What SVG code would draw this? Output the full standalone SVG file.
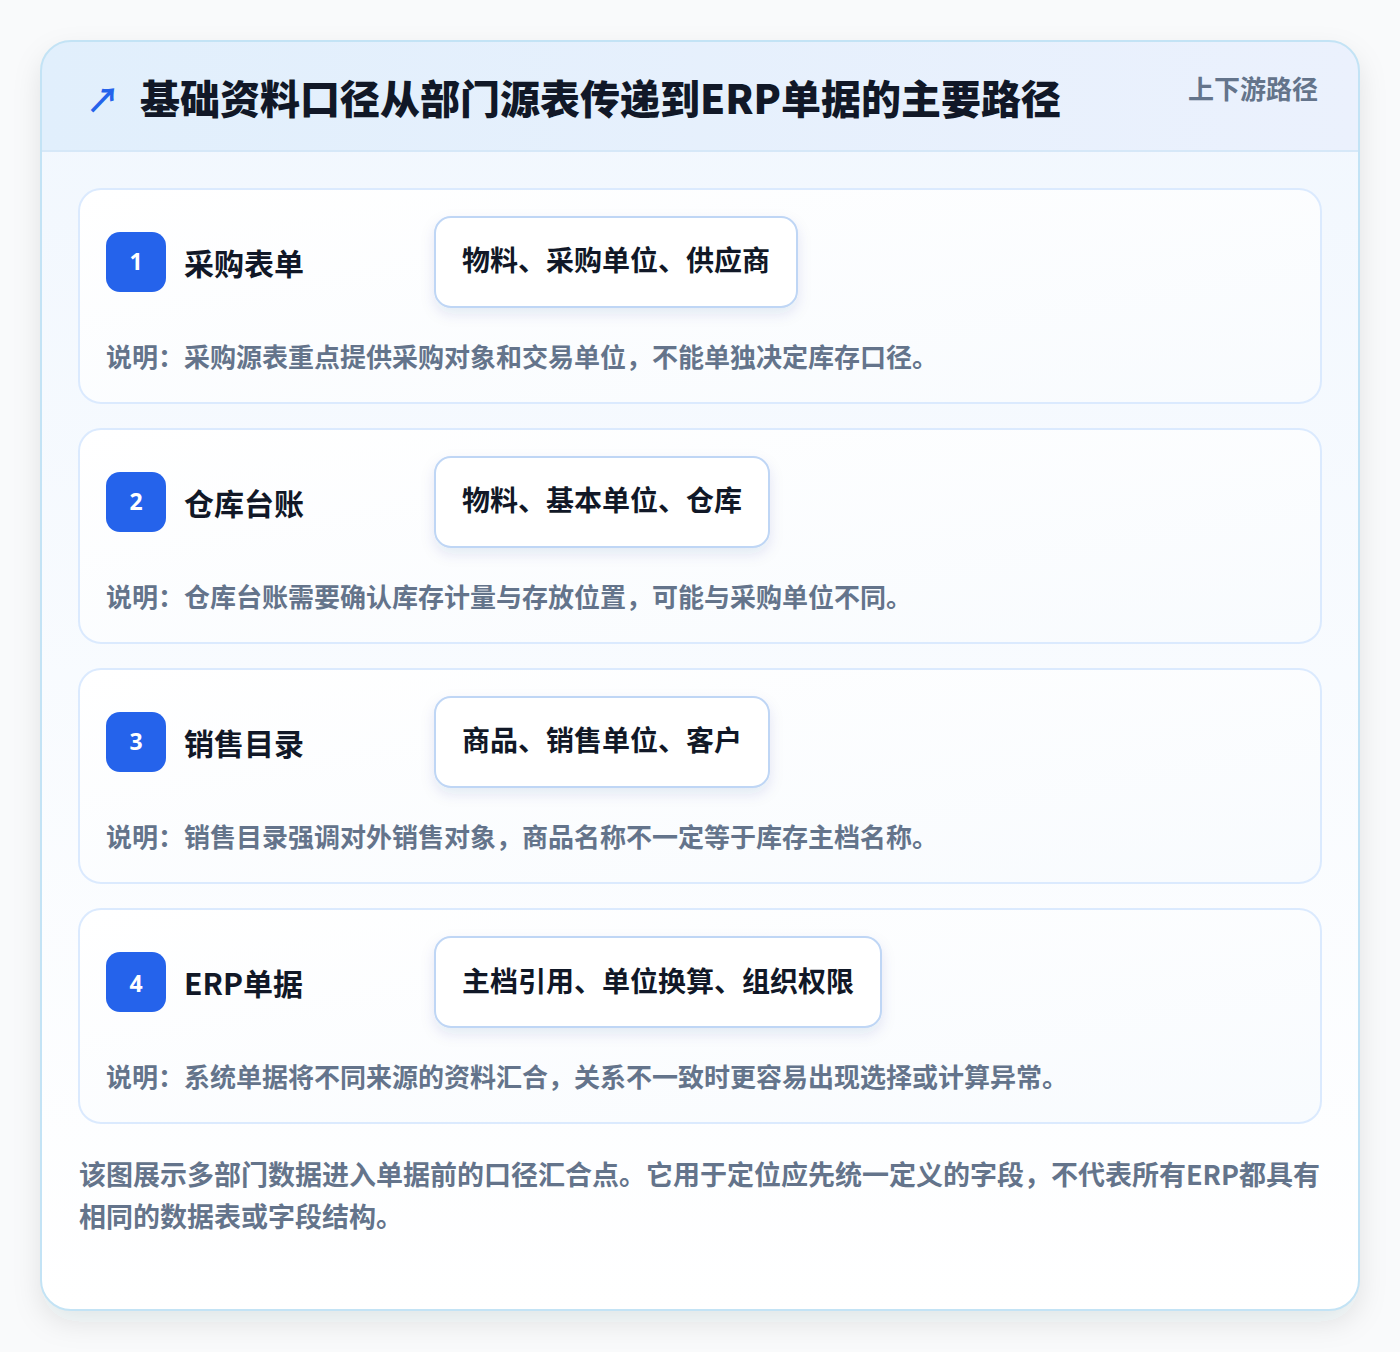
<svg xmlns="http://www.w3.org/2000/svg" width="1400" height="1352" viewBox="0 0 1400 1352">
<defs>
<linearGradient id="hdr" x1="0" y1="0" x2="1" y2="0"><stop offset="0" stop-color="#e1effc"/><stop offset="1" stop-color="#ebf1fd"/></linearGradient>
<linearGradient id="body" x1="0" y1="0" x2="0" y2="1"><stop offset="0" stop-color="#f1f7fe"/><stop offset="1" stop-color="#ffffff"/></linearGradient>
<linearGradient id="sec" x1="0" y1="0" x2="1" y2="1"><stop offset="0" stop-color="#ffffff"/><stop offset="1" stop-color="#f8fbfe"/></linearGradient>
<filter id="shadow" x="-10%" y="-10%" width="120%" height="120%"><feDropShadow dx="0" dy="12" stdDeviation="14" flood-color="#1e293b" flood-opacity="0.10"/></filter>
<filter id="chipShadow" x="-20%" y="-30%" width="140%" height="180%"><feDropShadow dx="0" dy="6" stdDeviation="7" flood-color="#1e3a8a" flood-opacity="0.10"/></filter>
<clipPath id="cardClip"><rect x="41" y="41" width="1318" height="1269" rx="30"/></clipPath>
</defs>
<style>
.t{font-family:"Noto Sans CJK SC","Noto Sans",sans-serif;font-weight:700}
.title{font-size:40px;font-weight:900;fill:#111827}
.tag{font-size:26px;fill:#64748b}
.sec{fill:url(#sec);stroke:#dbeafe;stroke-width:2}
.badge{fill:#2563eb}
.num{font-size:23px;fill:#ffffff;font-family:"Noto Sans","Liberation Sans",sans-serif;font-weight:700}
.name{font-size:30px;fill:#111827}
.chip{fill:#ffffff;stroke:#bfd6f5;stroke-width:2}
.chipt{font-size:28px;fill:#111827}
.desc{font-size:26px;fill:#64748b}
.foot{font-size:27px;fill:#64748b}
</style>
<rect width="1400" height="1352" fill="#f9fafb"/>
<rect x="41" y="41" width="1318" height="1269" rx="30" fill="#ffffff" filter="url(#shadow)"/>
<g clip-path="url(#cardClip)">
<rect x="41" y="41" width="1318" height="1269" fill="url(#body)"/>
<rect x="41" y="41" width="1318" height="110" fill="url(#hdr)"/>
<line x1="41" y1="151" x2="1359" y2="151" stroke="#d6e8f8" stroke-width="2"/>
</g>
<rect x="41" y="41" width="1318" height="1269" rx="30" fill="none" stroke="#c3e3f5" stroke-width="2"/>
<g id="header">
<text x="86" y="113" class="t" font-size="34" fill="#2563eb">↗</text>
<text x="140" y="114" class="t title">基础资料口径从部门源表传递到ERP单据的主要路径</text>
<text x="1318" y="99" text-anchor="end" class="t tag">上下游路径</text>
</g>
<g id="connectors"></g>
<g id="node1">
<rect x="79" y="189" width="1242" height="214" rx="22" class="sec"/>
<rect x="106" y="232" width="60" height="60" rx="14" class="badge"/>
<text x="136" y="270" text-anchor="middle" class="num">1</text>
<text x="184" y="275" class="t name">采购表单</text>
<rect x="435" y="217" width="362" height="90" rx="16" class="chip" filter="url(#chipShadow)"/>
<text x="462" y="271" class="t chipt">物料、采购单位、供应商</text>
<text x="106" y="367" class="t desc">说明：采购源表重点提供采购对象和交易单位，不能单独决定库存口径。</text>
</g>
<g id="node2">
<rect x="79" y="429" width="1242" height="214" rx="22" class="sec"/>
<rect x="106" y="472" width="60" height="60" rx="14" class="badge"/>
<text x="136" y="510" text-anchor="middle" class="num">2</text>
<text x="184" y="515" class="t name">仓库台账</text>
<rect x="435" y="457" width="334" height="90" rx="16" class="chip" filter="url(#chipShadow)"/>
<text x="462" y="511" class="t chipt">物料、基本单位、仓库</text>
<text x="106" y="607" class="t desc">说明：仓库台账需要确认库存计量与存放位置，可能与采购单位不同。</text>
</g>
<g id="node3">
<rect x="79" y="669" width="1242" height="214" rx="22" class="sec"/>
<rect x="106" y="712" width="60" height="60" rx="14" class="badge"/>
<text x="136" y="750" text-anchor="middle" class="num">3</text>
<text x="184" y="755" class="t name">销售目录</text>
<rect x="435" y="697" width="334" height="90" rx="16" class="chip" filter="url(#chipShadow)"/>
<text x="462" y="751" class="t chipt">商品、销售单位、客户</text>
<text x="106" y="847" class="t desc">说明：销售目录强调对外销售对象，商品名称不一定等于库存主档名称。</text>
</g>
<g id="node4">
<rect x="79" y="909" width="1242" height="214" rx="22" class="sec"/>
<rect x="106" y="952" width="60" height="60" rx="14" class="badge"/>
<text x="136" y="992" text-anchor="middle" class="num">4</text>
<text x="184" y="995" class="t name">ERP单据</text>
<rect x="435" y="937" width="446" height="90" rx="16" class="chip" filter="url(#chipShadow)"/>
<text x="462" y="992" class="t chipt">主档引用、单位换算、组织权限</text>
<text x="106" y="1087" class="t desc">说明：系统单据将不同来源的资料汇合，关系不一致时更容易出现选择或计算异常。</text>
</g>
<g id="footer">
<text x="79" y="1185" class="t foot">该图展示多部门数据进入单据前的口径汇合点。它用于定位应先统一定义的字段，不代表所有ERP都具有</text>
<text x="79" y="1227" class="t foot">相同的数据表或字段结构。</text>
</g>
</svg>
